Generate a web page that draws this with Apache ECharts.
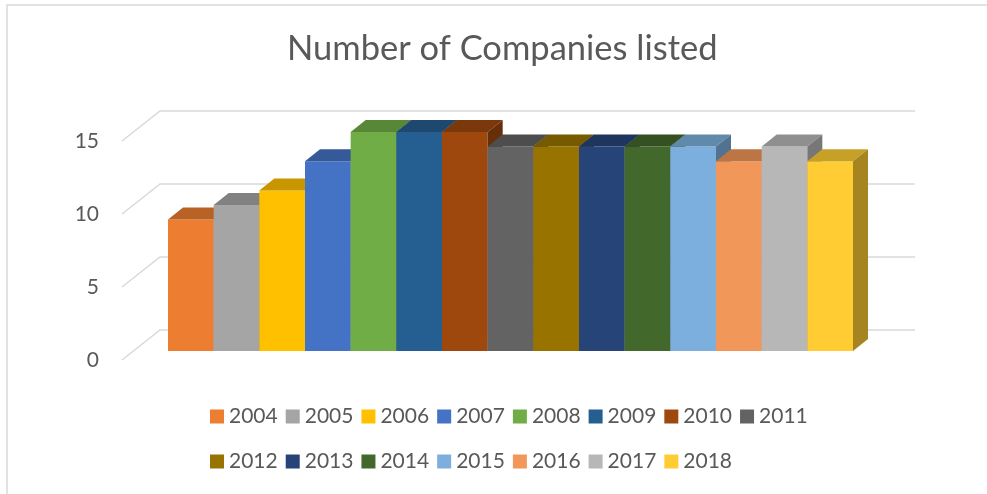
<!DOCTYPE html>
<html>
<head>
<meta charset="utf-8">
<script src="https://cdn.jsdelivr.net/npm/echarts@6/dist/echarts.min.js"></script>
<style>
  html, body { margin: 0; padding: 0; background: #fff; }
  #main { width: 987px; height: 494px; }
</style>
</head>
<body>
<div id="main"></div>
<script>
// 数据
var years = ['2004', '2005', '2006', '2007', '2008', '2009', '2010', '2011',
             '2012', '2013', '2014', '2015', '2016', '2017', '2018'];
var companies = [9, 10, 11, 13, 15, 15, 15, 14, 14, 14, 14, 14, 13, 14, 13];
var yTicks = [0, 5, 10, 15];
var palette = ['#ED7D31', '#A5A5A5', '#FFC000', '#4472C4', '#70AD47', '#255E91', '#9E480E', '#636363',
               '#997300', '#264478', '#43682B', '#7CAFDD', '#F1975A', '#B7B7B7', '#FFCD33'];

var FONT = 'Lato';
var FRONT_DX = 11, FRONT_DY = -9;   // 柱子前表面相对坐标轴平面的偏移
var DEPTH_DX = 15, DEPTH_DY = -12;  // 柱子厚度
var WALL_DX = 38, WALL_DY = -30;    // 背景墙偏移

function shade(hex, k) {
	var c = echarts.color.parse(hex);
	return 'rgb(' + Math.round(c[0] * k) + ',' + Math.round(c[1] * k) + ',' + Math.round(c[2] * k) + ')';
}

// 3D 柱子
function renderBar(params, api) {
	var base = api.coord([api.value(0), 0]);
	var top = api.coord([api.value(0), api.value(1)]);
	var w = api.size([1, 0])[0];
	var x0 = base[0] - w / 2 + FRONT_DX;
	var x1 = x0 + w;
	var yb = base[1] + FRONT_DY;
	var yt = top[1] + FRONT_DY;
	var color = palette[params.seriesIndex - 1];
	return {
		type: 'group',
		children: [
			{ type: 'rect', shape: { x: x0, y: yt, width: w, height: yb - yt },
			  style: { fill: color } },
			{ type: 'polygon', shape: { points: [[x0, yt], [x1, yt], [x1 + DEPTH_DX, yt + DEPTH_DY], [x0 + DEPTH_DX, yt + DEPTH_DY]] },
			  style: { fill: shade(color, 0.78) } },
			{ type: 'polygon', shape: { points: [[x1, yt], [x1 + DEPTH_DX, yt + DEPTH_DY], [x1 + DEPTH_DX, yb + DEPTH_DY], [x1, yb]] },
			  style: { fill: shade(color, 0.65) } }
		]
	};
}

// 背景网格线（斜线 + 背墙）
function renderGrid(params, api) {
	var cs = params.coordSys;
	var y = api.coord([0, api.value(0)])[1];
	var left = cs.x - 35;
	var right = cs.x + cs.width + 35 + WALL_DX;
	return {
		type: 'polyline',
		shape: { points: [[left, y], [left + WALL_DX, y + WALL_DY], [right, y + WALL_DY]] },
		style: { stroke: '#D9D9D9', lineWidth: 1.5, fill: null }
	};
}

var series = [{
	name: 'grid',
	type: 'custom',
	renderItem: renderGrid,
	data: yTicks.map(function (v) { return [v]; }),
	encode: { y: 0 },
	itemStyle: { color: '#D9D9D9' },
	silent: true,
	z: 1
}];
for (var i = 0; i < years.length; i++) {
	series.push({
		name: years[i],
		type: 'custom',
		renderItem: renderBar,
		data: [[i, companies[i]]],
		encode: { x: 0, y: 1 },
		itemStyle: { color: palette[i] },
		z: 2
	});
}

var myChart = echarts.init(document.getElementById('main'));
myChart.setOption({
	animation: false,
	graphic: [{
		type: 'rect',
		shape: { x: 7, y: 5, width: 1000, height: 520 },
		style: { fill: null, stroke: '#D9D9D9', lineWidth: 1.5 },
		silent: true
	}],
	title: {
		text: 'Number of Companies listed',
		left: 282,
		top: 26,
		textStyle: { fontFamily: FONT, fontSize: 34.5, fontWeight: 'normal', color: '#595959' }
	},
	legend: {
		data: years,
		left: 205,
		top: 393,
		width: 640,
		icon: 'rect',
		itemWidth: 14,
		itemHeight: 14,
		itemGap: 8,
		textStyle: { fontFamily: FONT, fontSize: 21, color: '#595959', lineHeight: 37 }
	},
	grid: { left: 157, top: 141, width: 685, height: 219 },
	xAxis: {
		type: 'category',
		data: years,
		show: false
	},
	yAxis: {
		type: 'value',
		min: 0,
		max: 15,
		interval: 5,
		axisLine: { show: false },
		axisTick: { show: false },
		splitLine: { show: false },
		axisLabel: { margin: 58, fontFamily: FONT, fontSize: 21, color: '#595959' }
	},
	series: series
});
</script>
</body>
</html>
